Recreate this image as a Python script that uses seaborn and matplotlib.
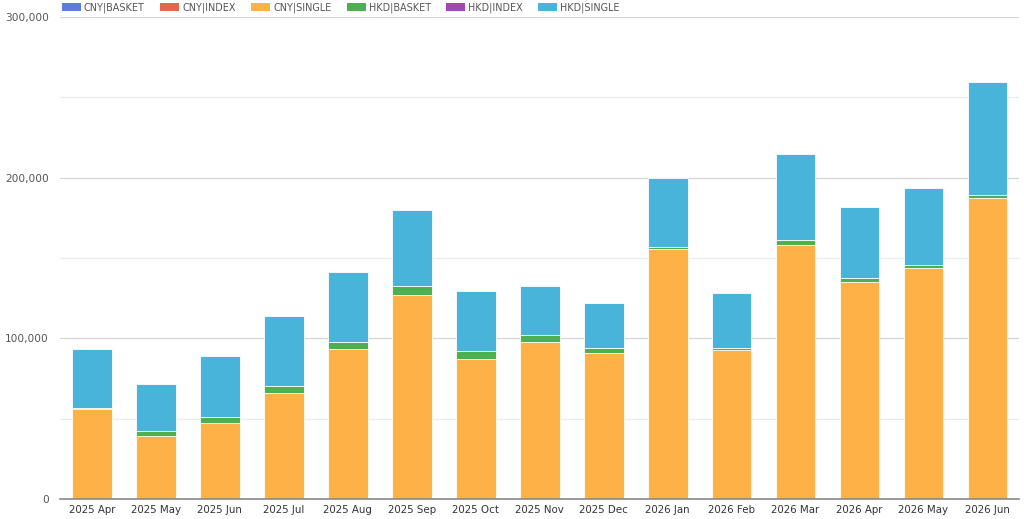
import numpy as np
import pandas as pd
import matplotlib
matplotlib.use("Agg")
import matplotlib.pyplot as plt
import matplotlib.patches as mpatches
import seaborn as sns

months = ["2025 Apr", "2025 May", "2025 Jun", "2025 Jul", "2025 Aug", "2025 Sep",
          "2025 Oct", "2025 Nov", "2025 Dec", "2026 Jan", "2026 Feb", "2026 Mar",
          "2026 Apr", "2026 May", "2026 Jun"]

# values (stack order bottom -> top)
cny_basket = [0, 0, 0, 0, 0, 0, 0, 0, 0, 0, 0, 0, 0, 0, 0]
cny_index = [0, 0, 0, 0, 0, 0, 0, 0, 0, 0, 0, 0, 0, 0, 0]
cny_single = [55800, 39200, 47500, 66200, 93200, 127000, 87100, 97900, 91100,
              155400, 92900, 157900, 134900, 143800, 187300]
hkd_basket = [600, 3300, 3300, 4100, 4500, 5600, 5200, 4400, 2900,
              1600, 1100, 3100, 2400, 2000, 2100]
hkd_index = [0, 0, 0, 0, 0, 0, 0, 0, 0, 0, 0, 0, 0, 0, 0]
hkd_single = [37100, 28900, 38400, 43600, 43600, 47300, 37300, 30500, 28200,
              42600, 34300, 53700, 44600, 47800, 70300]

series = ["CNY|BASKET", "CNY|INDEX", "CNY|SINGLE", "HKD|BASKET", "HKD|INDEX", "HKD|SINGLE"]
colors = ["#5b7fd8", "#e0684b", "#fdb146", "#4caf50", "#a146b5", "#48b4d9"]

df = pd.DataFrame({
    "month": months,
    "CNY|BASKET": cny_basket,
    "CNY|INDEX": cny_index,
    "CNY|SINGLE": cny_single,
    "HKD|BASKET": hkd_basket,
    "HKD|INDEX": hkd_index,
    "HKD|SINGLE": hkd_single,
})
cum = df[series].cumsum(axis=1)

sns.set_theme(style="white")
plt.rcParams["font.family"] = ["DejaVu Sans"]

fig = plt.figure(figsize=(10.24, 5.19), dpi=100)
ax = fig.add_axes([0.0586, 0.0385, 0.937, 0.9287])

# draw cumulative totals from the top of the stack downward
for name, color in reversed(list(zip(series, colors))):
    sns.barplot(x=df["month"], y=cum[name], color=color, width=0.62,
                edgecolor="white", linewidth=0.6, saturation=1, ax=ax)

ax.set_ylim(0, 300000)
ax.set_xlim(-0.5, len(months) - 0.5)
ax.set_yticks([0, 100000, 200000, 300000])
ax.set_yticklabels(["0", "100,000", "200,000", "300,000"])
ax.set_yticks([50000, 150000, 250000], minor=True)
ax.grid(axis="y", which="major", color="#d6d6d6", linewidth=0.9)
ax.grid(axis="y", which="minor", color="#ebebeb", linewidth=0.9)
ax.set_axisbelow(True)
ax.set_xlabel("")
ax.set_ylabel("")
for side in ["top", "right", "left"]:
    ax.spines[side].set_visible(False)
ax.spines["bottom"].set_color("#8a8a8a")
ax.spines["bottom"].set_linewidth(1.2)
ax.tick_params(axis="x", labelsize=7.4, colors="#333333", length=0, pad=4)
ax.tick_params(axis="y", labelsize=7.6, colors="#555555", length=0, pad=8)

handles = [mpatches.Patch(facecolor=c, edgecolor="none", label=s) for s, c in zip(series, colors)]
fig.legend(handles=handles, loc="center left", bbox_to_anchor=(0.052, 0.985), ncol=6,
           frameon=False, fontsize=6.9, handlelength=2.0, handleheight=0.9,
           handletextpad=0.3, columnspacing=1.6, labelcolor="#555555")

fig.savefig("out.png", dpi=100)
